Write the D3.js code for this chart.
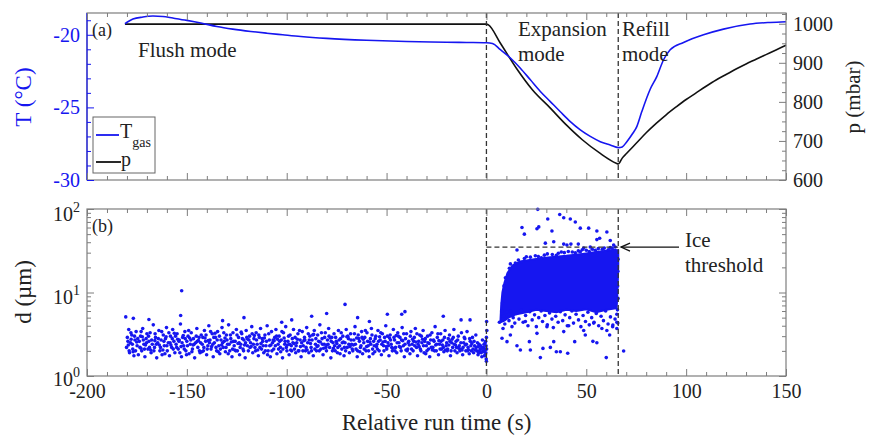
<!DOCTYPE html>
<html><head><meta charset="utf-8">
<script src="https://cdn.jsdelivr.net/npm/d3@7"></script>
<style>
body{margin:0;background:#fff}
svg{display:block}
svg text{font-family:'Liberation Serif','Times New Roman','DejaVu Serif',serif}
</style>
</head><body>
<svg id="c" width="869" height="438"></svg>
<script>
// ---------------- DATA ----------------
const xMajorTicks = [-200,-150,-100,-50,0,50,100,150];
const tempTicks = [-30,-25,-20];
const presTicks = [600,700,800,900,1000];
const diamTicks = [1,10,100];
const modeBoundaries = [0,66];
const iceThreshold = 35;

const tempTime = [-181,-177,-172,-167,-162,-157,-150,-143,-135,-127,-118,-110,-102,-93,-80,-60,-40,-20,-10,0,3,7,12,17,22,27,32,37,42,47,52,57,62,66,68,70.3,73.3,75.3,77.8,82,85.3,88.7,92,98.7,108.7,118.7,132,142,150];
const tempVal  = [-19.24,-18.92,-18.78,-18.71,-18.74,-18.85,-19.01,-19.19,-19.43,-19.61,-19.77,-19.89,-20.0,-20.12,-20.25,-20.38,-20.46,-20.51,-20.53,-20.55,-20.6,-21.03,-21.6,-22.3,-23.1,-23.9,-24.6,-25.3,-25.98,-26.55,-27.0,-27.36,-27.59,-27.77,-27.72,-27.36,-26.78,-26.32,-25.29,-23.75,-22.88,-21.72,-21.03,-20.53,-20.0,-19.61,-19.26,-19.15,-19.1];

const presTime = [-181,-150,-100,-50,0,1,7,15,23,32,40,48,57,65,66,68,70,75,80,85,90,95,100,105,110,115,120,125,130,135,140,145,150];
const presVal  = [999,999,999,999,999,997,950,886,831,784,741,703,668,643,641,656,667,694,721,745,767,787,806,823,840,856,870,884,897,909,921,933,945];

const flushPoints = [
[-180.2,2.2],[-179.8,2.9],[-179.1,3.6],[-178.7,1.9],[-178.2,2.5],[-177.6,3.1],[-177.1,2.1],[-176.5,1.75],[-176.0,2.7],[-175.4,3.4],[-174.9,2.3],[-174.3,1.8],[-173.8,2.6],[-173.2,3.0],[-172.6,2.0],[-172.1,3.7],[-171.5,2.4],[-171.0,1.7],[-170.4,2.8],[-170.0,3.2],
[-169.5,2.1],[-169.0,2.6],[-168.4,3.3],[-167.9,1.9],[-167.3,2.4],[-166.8,4.1],[-166.2,2.2],[-165.7,2.9],[-165.1,1.65],[-164.6,2.5],[-164.0,3.5],[-163.5,2.0],[-162.9,2.7],[-162.4,1.8],[-161.8,3.1],[-161.3,2.3],[-160.7,2.8],[-160.2,3.8],[-159.8,2.0],[-159.3,2.5],
[-158.7,1.75],[-158.2,3.0],[-157.6,2.2],[-157.1,3.6],[-156.5,2.6],[-156.0,1.9],[-155.4,2.4],[-154.9,3.2],[-154.3,2.1],[-153.8,2.7],[-153.2,4.2],[-152.7,1.7],[-152.1,2.9],[-151.6,2.3],[-151.0,3.4],[-150.5,2.0],[-150.0,2.6],[-149.4,3.0],[-148.9,1.85],[-148.3,2.4],
[-147.8,3.3],[-147.2,2.1],[-146.7,2.8],[-146.1,1.65],[-145.6,2.5],[-145.0,3.7],[-144.5,2.2],[-143.9,2.9],[-143.4,1.9],[-142.8,3.1],[-142.3,2.4],[-141.7,2.0],[-141.2,3.5],[-140.6,2.6],[-140.1,1.8],[-139.5,2.3],[-139.0,4.0],[-138.4,2.7],[-137.9,2.1],[-137.3,3.2],
[-136.8,1.7],[-136.2,2.5],[-135.7,2.9],[-135.1,2.0],[-134.6,3.4],[-134.0,2.3],[-133.5,1.85],[-132.9,2.7],[-132.4,3.8],[-131.8,2.2],[-131.3,2.6],[-130.7,1.95],[-130.2,3.1],[-129.6,2.4],[-129.1,4.1],[-128.5,2.0],[-128.0,2.8],[-127.4,1.7],[-126.9,3.3],[-126.3,2.3],
[-125.8,2.6],[-125.2,3.6],[-124.7,2.0],[-124.1,2.9],[-123.6,1.8],[-123.0,2.4],[-122.5,3.2],[-121.9,2.1],[-121.4,2.7],[-120.8,1.65],[-120.3,3.5],[-119.7,2.3],[-119.2,2.0],[-118.6,3.0],[-118.1,2.5],[-117.5,3.9],[-117.0,1.9],[-116.4,2.8],[-115.9,2.2],[-115.3,3.3],
[-114.8,2.4],[-114.2,1.75],[-113.7,2.9],[-113.1,3.7],[-112.6,2.1],[-112.0,2.6],[-111.5,1.9],[-110.9,3.1],[-110.4,2.3],[-109.8,4.0],[-109.3,2.0],[-108.7,2.7],[-108.2,1.7],[-107.6,3.4],[-107.1,2.5],[-106.5,2.1],[-106.0,2.9],[-105.4,3.6],[-104.9,1.85],[-104.3,2.4],
[-103.8,3.0],[-103.2,2.2],[-102.7,2.7],[-102.1,1.65],[-101.6,3.3],[-101.0,2.4],[-100.5,3.9],[-99.9,2.0],[-99.4,2.6],[-98.8,1.8],[-98.3,3.1],[-97.7,2.3],[-97.2,2.8],[-96.6,3.6],[-96.1,2.1],[-95.5,1.9],[-95.0,2.5],[-94.4,3.2],[-93.9,2.0],[-93.3,2.7],
[-92.8,1.7],[-92.2,3.4],[-91.7,2.3],[-91.1,2.9],[-90.6,2.0],[-90.0,3.8],[-89.5,2.5],[-88.9,1.9],[-88.4,3.0],[-87.8,2.2],[-87.3,2.7],[-86.7,1.75],[-86.2,3.5],[-85.6,2.4],[-85.1,2.0],[-84.5,3.1],[-84.0,2.6],[-83.4,4.1],[-82.9,2.1],[-82.3,2.8],
[-81.8,1.8],[-81.2,2.4],[-80.7,3.3],[-80.1,2.0],[-79.6,2.7],[-79.0,3.7],[-78.5,2.2],[-77.9,1.65],[-77.4,2.9],[-76.8,2.5],[-76.3,3.2],[-75.7,2.0],[-75.2,2.6],[-74.6,1.9],[-74.1,3.5],[-73.5,2.3],[-73.0,2.8],[-72.4,2.1],[-71.9,3.0],[-71.3,1.75],
[-70.8,2.5],[-70.2,3.6],[-69.7,2.2],[-69.1,2.8],[-68.6,1.9],[-68.0,3.2],[-67.5,2.4],[-66.9,2.0],[-66.4,2.7],[-65.8,3.9],[-65.3,2.1],[-64.7,1.7],[-64.2,3.1],[-63.6,2.6],[-63.1,2.2],[-62.5,3.4],[-62.0,1.85],[-61.4,2.5],[-60.9,2.9],[-60.3,2.0],
[-59.8,3.3],[-59.2,2.3],[-58.7,1.7],[-58.1,2.8],[-57.6,3.7],[-57.0,2.1],[-56.5,2.6],[-55.9,1.95],[-55.4,3.0],[-54.8,2.4],[-54.3,3.5],[-53.7,2.0],[-53.2,2.7],[-52.6,1.8],[-52.1,3.2],[-51.5,2.3],[-51.0,2.9],[-50.4,4.0],[-49.9,2.1],[-49.3,2.5],
[-48.8,1.75],[-48.2,3.1],[-47.7,2.4],[-47.1,2.0],[-46.6,3.6],[-46.0,2.7],[-45.5,2.2],[-44.9,1.9],[-44.4,3.3],[-43.8,2.5],[-43.3,2.9],[-42.7,2.0],[-42.2,3.8],[-41.6,2.3],[-41.1,1.7],[-40.5,2.8],[-40.0,3.2],[-39.4,2.1],[-38.9,2.6],[-38.3,1.85],
[-37.8,3.4],[-37.2,2.4],[-36.7,2.0],[-36.1,2.9],[-35.6,3.7],[-35.0,2.2],[-34.5,1.75],[-33.9,2.6],[-33.4,3.1],[-32.8,2.0],[-32.3,2.5],[-31.7,3.5],[-31.2,1.9],[-30.6,2.8],[-30.1,2.3],[-29.5,3.0],[-29.0,2.1],[-28.4,1.7],[-27.9,2.7],[-27.3,3.3],
[-26.8,2.2],[-26.2,2.6],[-25.7,3.9],[-25.1,2.0],[-24.6,2.9],[-24.0,1.8],[-23.5,2.4],[-22.9,3.2],[-22.4,2.1],[-21.8,2.7],[-21.3,1.95],[-20.7,3.5],[-20.2,2.3],[-19.6,2.0],[-19.1,2.8],[-18.5,3.1],[-18.0,1.75],[-17.4,2.5],[-16.9,2.2],[-16.3,3.6],
[-15.8,2.0],[-15.2,2.6],[-14.7,1.9],[-14.1,3.0],[-13.6,2.3],[-13.0,2.1],[-12.5,3.3],[-11.9,1.8],[-11.4,2.5],[-10.8,2.8],[-10.3,2.0],[-9.7,3.4],[-9.2,2.2],[-8.6,1.85],[-8.1,2.6],[-7.5,2.0],[-7.0,2.9],[-6.4,1.9],[-5.9,2.3],[-5.3,3.1],
[-4.8,2.0],[-4.2,1.8],[-3.7,2.4],[-3.1,2.1],[-2.6,1.9],[-2.0,2.7],[-1.5,2.2],[-1.0,1.75],[-0.6,2.5],[-0.3,1.9],[-0.2,2.3],[-0.1,1.6],[0.0,2.9],[0.1,2.1],[0.2,3.5],[0.0,1.5],[-0.4,2.6],[0.1,4.5],
[-180.6,5.1],[-176.8,4.9],[-169.0,4.75],[-153.1,5.3],[-152.6,10.5],[-132.1,4.6],[-121.4,5.0],[-102.5,4.4],[-97.5,4.7],[-87.5,5.2],[-80.0,5.6],[-70.8,7.2],[-64.5,5.0],[-58.6,4.5],[-49.6,5.5],[-42.4,5.5],[-40.8,5.9],[-21.6,5.2],[-12.7,4.7],[-8.2,4.7]
];

const flushPoints2 = [
[-179.5,2.6],[-178.9,2.0],[-178.0,3.3],[-177.3,2.4],[-176.2,3.0],[-175.7,2.0],[-174.6,2.8],[-173.5,2.2],[-172.9,3.4],[-171.8,2.7],[-171.2,2.1],[-170.2,2.5],[-169.2,3.0],[-168.7,2.2],[-167.6,2.7],[-166.5,2.0],[-165.9,3.2],[-165.3,2.4],[-164.3,2.8],[-163.2,2.2],
[-162.6,3.4],[-161.5,2.6],[-161.0,1.85],[-160.0,2.3],[-159.0,3.3],[-158.4,2.5],[-157.3,2.8],[-156.8,2.1],[-155.7,3.0],[-155.1,2.2],[-154.0,2.6],[-153.5,1.9],[-152.4,2.5],[-151.3,2.1],[-150.8,2.8],[-149.7,2.3],[-149.1,3.5],[-148.0,2.7],[-147.5,1.95],[-146.4,2.4],
[-145.3,3.0],[-144.8,2.6],[-143.7,2.0],[-143.1,2.5],[-142.0,2.9],[-141.5,2.2],[-140.4,3.1],[-139.8,2.1],[-138.7,2.5],[-138.1,3.4],[-137.0,2.4],[-136.5,2.9],[-135.4,2.2],[-134.8,2.7],[-133.7,3.0],[-133.2,2.1],[-132.1,2.5],[-131.5,3.3],[-130.4,2.2],[-129.9,2.7],
[-128.8,2.4],[-128.2,3.1],[-127.1,2.1],[-126.6,2.6],[-125.5,2.0],[-124.9,3.1],[-123.8,2.5],[-123.3,2.2],[-122.2,2.8],[-121.6,2.0],[-120.6,2.5],[-120.0,2.9],[-118.9,2.7],[-118.4,2.2],[-117.3,3.2],[-116.7,2.4],[-115.6,2.0],[-115.1,2.7],[-114.0,3.1],[-113.4,2.2],
[-112.3,2.8],[-111.8,2.3],[-110.7,2.0],[-110.1,2.6],[-109.0,3.2],[-108.5,2.3],[-107.4,2.0],[-106.8,2.7],[-105.7,2.3],[-105.1,3.0],[-104.1,2.1],[-103.5,2.6],[-102.4,3.4],[-101.9,2.1],[-100.8,2.6],[-100.2,2.2],[-99.1,3.0],[-98.6,2.4],[-97.5,2.0],[-96.9,2.5],
[-95.8,2.9],[-95.3,2.3],[-94.2,2.0],[-93.6,3.5],[-92.5,2.5],[-91.9,2.0],[-90.9,2.7],[-90.3,2.2],[-89.2,3.2],[-88.7,2.7],[-87.6,2.0],[-87.0,3.1],[-85.9,2.1],[-85.4,2.8],[-84.3,2.3],[-83.7,2.0],[-82.6,3.3],[-82.1,2.4],[-81.0,2.9],[-80.4,2.2],
[-79.3,2.4],[-78.8,3.0],[-77.7,2.6],[-77.1,2.0],[-76.0,2.3],[-75.5,2.9],[-74.4,2.2],[-73.8,2.7],[-72.7,3.3],[-72.2,2.5],[-71.1,2.2],[-70.5,2.0],[-69.4,3.0],[-68.9,2.4],[-67.8,2.7],[-67.2,2.1],[-66.1,3.2],[-65.6,2.4],[-64.5,2.0],[-63.9,2.8],
[-62.8,2.3],[-62.3,2.9],[-61.2,2.1],[-60.6,3.5],[-59.5,2.6],[-59.0,2.0],[-57.9,2.4],[-57.3,3.1],[-56.2,2.3],[-55.7,2.8],[-54.6,2.1],[-54.0,2.6],[-52.9,3.3],[-52.4,2.4],[-51.3,2.0],[-50.7,2.6],[-49.6,3.0],[-49.1,2.3],[-48.0,2.7],[-47.4,2.2],
[-46.3,2.9],[-45.8,2.0],[-44.7,2.5],[-44.1,3.0],[-43.0,2.2],[-42.5,2.7],[-41.4,3.2],[-40.8,2.4],[-39.7,2.0],[-39.2,2.5],[-38.1,3.0],[-37.5,2.1],[-36.4,2.6],[-35.9,2.3],[-34.8,3.2],[-34.2,2.4],[-33.1,2.1],[-32.6,3.0],[-31.5,2.3],[-30.9,2.6],
[-29.8,2.0],[-29.3,2.5],[-28.2,3.1],[-27.6,2.2],[-26.5,2.7],[-26.0,2.0],[-24.9,2.4],[-24.3,3.2],[-23.2,2.1],[-22.7,2.6],[-21.6,2.2],[-21.0,2.9],[-19.9,2.5],[-19.4,2.1],[-18.3,2.6],[-17.7,2.0],[-16.6,2.9],[-16.1,2.4],[-15.0,2.2],[-14.4,2.7],
[-13.3,2.0],[-12.8,2.5],[-11.7,2.2],[-11.1,2.9],[-10.0,2.4],[-9.5,2.0],[-8.4,2.8],[-7.8,2.3],[-6.7,2.1],[-6.2,2.6],[-5.1,2.2],[-4.5,2.5],[-3.4,2.0],[-2.9,2.3],[-1.8,2.0],[-1.2,2.4],[-0.8,2.1],[-0.5,1.8],[-2.3,1.7],[-3.9,1.9]
];

const flushPoints3 = [
[-179.3,2.35],[-177.9,2.75],[-176.9,1.95],[-175.1,2.55],[-173.0,2.15],[-172.3,2.95],[-170.7,2.35],[-168.1,2.05],[-166.0,2.65],[-163.8,2.35],[-162.0,2.05],[-160.4,2.95],[-158.0,2.35],[-156.3,3.25],[-154.6,2.75],[-152.9,2.25],[-151.8,3.05],[-150.2,1.8],[-148.6,2.85],[-146.9,2.35],
[-144.2,2.65],[-142.5,1.95],[-140.9,2.85],[-139.3,2.65],[-137.6,2.25],[-135.9,3.25],[-134.3,1.95],[-132.6,2.35],[-130.9,2.85],[-129.3,1.85],[-127.7,2.55],[-126.0,2.05],[-124.4,2.45],[-122.8,3.35],[-121.1,2.35],[-119.5,2.75],[-117.8,2.25],[-116.2,3.05],[-114.5,2.05],[-112.9,2.45],
[-111.2,2.85],[-109.6,1.8],[-107.9,2.35],[-106.3,2.65],[-104.6,2.75],[-103.0,1.95],[-101.3,2.85],[-99.7,2.35],[-98.0,2.05],[-96.4,2.45],[-94.7,2.75],[-93.1,2.25],[-91.4,2.65],[-89.8,2.05],[-88.1,2.45],[-86.5,3.15],[-84.8,2.25],[-83.2,2.55],[-81.5,2.15],[-79.9,2.35],
[-78.2,2.85],[-76.6,2.15],[-74.9,2.45],[-73.3,1.85],[-71.6,2.55],[-69.9,2.95],[-68.3,2.25],[-66.6,2.35],[-65.0,2.85],[-63.4,1.95],[-61.7,2.75],[-60.0,2.25],[-58.4,2.55],[-56.8,1.85],[-55.1,2.25],[-53.5,2.95],[-51.8,2.55],[-50.1,2.25],[-48.5,2.85],[-46.9,2.15],
[-45.2,3.05],[-43.6,2.25],[-41.9,2.65],[-40.3,2.05],[-38.6,2.35],[-37.0,2.75],[-35.3,2.55],[-33.7,2.25],[-32.0,2.75],[-30.4,1.85],[-28.7,2.45],[-27.1,2.05],[-25.4,2.35],[-23.8,2.65],[-22.1,2.35],[-20.5,2.05],[-18.8,2.35],[-17.2,2.75],[-15.5,2.35],[-13.9,2.15],
[-12.2,2.05],[-10.6,2.35],[-8.9,2.05],[-7.3,2.45],[-5.6,2.05],[-4.0,2.25],[-2.4,2.15],[-1.3,1.95],[-0.7,2.05]
];

// dense ice cloud envelope (t, d)
const cloudOutline = [[7,4.4],[7.4,7],[8,10],[9,13],[10.5,17],[13,21],[17,23.5],[24,25],[32,26.5],[40,27.5],[48,29],[57,31],[64,32.5],[66,32],[66,20],[65.6,10],[65.2,6.5],[60,6.2],[55,5.8],[50,6.3],[45,6],[40,6.2],[35,5.8],[30,6],[25,6.2],[20,5.8],[15,5.5],[11,5],[9,4.6]];

const expansionPoints = [
[25.7,99],[30.7,76],[26.2,61],[25.3,58],[17.8,60],[19.0,50],[36.7,86],[38.7,78.5],[42.0,76],[44.5,70],[47.0,59],[51.2,59],[55.3,54.5],[60.3,53],[56.7,44.6],[55.3,43],[32.8,54.5],[33.7,40.5],[29.5,39],[38.7,38],[40.3,37],[42.3,38],[62.0,42],[63.7,37],[46.0,38],[15.3,32.3],[48.7,34],[52.0,35],
[7.8,2.83],[12.0,3.1],[10.3,2.58],[15.3,2.3],[17.0,2.05],[21.5,2.58],[22.0,2.05],[27.0,1.66],[28.3,2.14],[32.0,2.2],[35.0,1.95],[37.0,1.95],[40.7,1.87],[38.7,3.4],[33.7,2.58],[44.2,2.58],[48.7,3.5],[49.5,3.1],[53.3,2.6],[55.3,2.5],[60.0,1.66],[61.7,3.1],[63.3,4.08],[65.3,4.4],[65.3,3.7],[68.7,1.99],[6.5,4.4],
[8.3,3.7],[12.8,3.9],[19.5,4.5],[25.3,3.24],[30.3,3.9],[41.2,4.0],[53.7,4.3],[57.8,3.7],[60.3,3.5],
[8.5,5.2],[9.2,4.2],[10.0,5.8],[11.3,4.6],[12.1,6.0],[13.4,5.0],[14.2,4.3],[15.0,5.6],[16.3,4.8],[17.5,6.1],[18.4,4.4],[19.6,5.3],[20.8,4.0],[21.7,5.9],[22.9,4.7],[24.1,5.4],[25.0,3.9],[26.2,5.0],[27.4,6.0],[28.1,4.5],[29.3,5.3],[30.5,4.1],[31.6,5.7],[32.8,4.8],[33.5,3.8],[34.7,5.2],[35.9,4.4],[37.0,5.9],[38.2,4.6],[39.4,5.4],[40.5,4.0],[41.7,5.0],[42.8,6.0],[43.6,4.3],[44.9,5.5],[46.1,4.7],[47.3,3.9],[48.4,5.3],[49.6,4.5],[50.8,5.8],[51.5,4.1],[52.7,5.0],[53.9,4.4],[55.0,5.6],[56.2,4.0],[57.4,5.2],[58.6,4.6],[59.7,6.0],[60.9,4.2],[62.1,5.1],[63.2,3.9],[64.4,4.8],[65.3,5.5],[65.8,4.3],[65.6,6.2],[65.9,8.5],[65.7,12],[65.8,18],[65.9,25],[8.0,7.5],[7.6,6.0],[8.8,12],[9.5,15],
[14.5,22.5],[16,24.5],[19,25.5],[22,26.5],[26,27],[29,28],[33,28.5],[36,29.5],[39,30],[43,30.5],[46,31.5],[50,32],[53,33],[56,33.5],[59,34],[62,34.5],[64.5,35],[18,23],[41,31],[48,32.5],
[12,22],[20,26.8],[24.5,27.5],[27.5,26],[30.5,29],[35,27.8],[37.5,30.5],[44.5,29.8],[47,30.8],[51.5,31],[54.5,32],[58,33],[61,32.5],[63,34],[11.5,19.5]
];

// ---------------- LAYOUT ----------------
const L = 87, R = 786, aTop = 13, aBot = 180, bTop = 209, bBot = 376;
const blue = '#1616f0', gray = '#7d7d7d';
const FONT = "'Liberation Serif','Times New Roman','DejaVu Serif',serif";

const x  = d3.scaleLinear().domain([-200,150]).range([L,R]);
const yT = d3.scaleLinear().domain([-30,-18.5]).range([aBot,aTop]);
const yP = d3.scaleLinear().domain([600,1027.5]).range([aBot,aTop]);
const yD = d3.scaleLog().domain([1,100]).range([bBot,bTop]);

const svg = d3.select('#c').attr('font-family', FONT);

// ---------- panel (b) data ----------
const gB = svg.append('g');
gB.append('path')
  .attr('d', d3.line().x(d=>x(d[0])).y(d=>yD(d[1])).curve(d3.curveLinearClosed)(cloudOutline))
  .attr('fill', blue).attr('stroke', blue).attr('stroke-width', 2);
[flushPoints, flushPoints2, flushPoints3, expansionPoints].forEach(arr=>{
  gB.append('g').selectAll('circle').data(arr).join('circle')
    .attr('cx', d=>x(d[0])).attr('cy', d=>yD(d[1])).attr('r', 1.8).attr('fill', blue);
});

// ---------- panel (a) lines ----------
svg.append('path')
  .attr('d', d3.line().x((d,i)=>x(presTime[i])).y(d=>yP(d)).curve(d3.curveMonotoneX)(presVal))
  .attr('fill','none').attr('stroke','#111').attr('stroke-width',1.6);
svg.append('path')
  .attr('d', d3.line().x((d,i)=>x(tempTime[i])).y(d=>yT(d)).curve(d3.curveMonotoneX)(tempVal))
  .attr('fill','none').attr('stroke',blue).attr('stroke-width',1.6);

// ---------- dashed mode lines ----------
modeBoundaries.forEach(t=>{
  [[aTop,aBot],[bTop,bBot]].forEach(([y0,y1])=>{
    svg.append('line').attr('x1',x(t)).attr('x2',x(t)).attr('y1',y0).attr('y2',y1)
      .attr('stroke','#333').attr('stroke-width',1.3).attr('stroke-dasharray','5,3');
  });
});
svg.append('line').attr('x1',x(modeBoundaries[0])).attr('x2',x(modeBoundaries[1]))
  .attr('y1',yD(iceThreshold)).attr('y2',yD(iceThreshold))
  .attr('stroke','#333').attr('stroke-width',1.3).attr('stroke-dasharray','5,3');

// ---------- frames ----------
[[aTop,aBot],[bTop,bBot]].forEach(([y0,y1])=>{
  svg.append('rect').attr('x',L).attr('y',y0).attr('width',R-L).attr('height',y1-y0)
    .attr('fill','none').attr('stroke',gray).attr('stroke-width',1.2);
});
svg.append('line').attr('x1',L).attr('x2',L).attr('y1',aTop).attr('y2',aBot).attr('stroke',blue).attr('stroke-width',1.2);

// ---------- axes ----------
function axis(fn, scale, vals, size, tr, color, fmt, pad){
  const a = fn(scale).tickValues(vals).tickSize(-size).tickPadding(pad||8)
    .tickFormat(fmt || (()=>''));
  const g = svg.append('g').attr('transform', tr).call(a);
  g.attr('font-family', FONT).attr('font-size', 20);
  g.select('.domain').remove();
  g.selectAll('line').attr('stroke', color).attr('stroke-width', 1);
  g.selectAll('text').attr('fill', '#222');
  return g;
}
const xMinor = d3.range(-200,151,10).filter(v=>!xMajorTicks.includes(v));
[[aBot,d3.axisBottom],[bBot,d3.axisBottom],[aTop,d3.axisTop],[bTop,d3.axisTop]].forEach(([yy,fn])=>{
  axis(fn, x, xMinor, 4, `translate(0,${yy})`, gray);
  axis(fn, x, xMajorTicks, 7, `translate(0,${yy})`, gray, (yy===bBot? d=>String(d) : null), 8);
});
axis(d3.axisLeft, yT, d3.range(-30,-18,1).filter(v=>!tempTicks.includes(v)), 4, `translate(${L},0)`, blue);
const gT = axis(d3.axisLeft, yT, tempTicks, 7, `translate(${L},0)`, blue, d=>String(d), 7);
gT.selectAll('text').attr('fill', blue);
axis(d3.axisRight, yP, d3.range(600,1026,25).filter(v=>!presTicks.includes(v)), 4, `translate(${R},0)`, gray);
axis(d3.axisRight, yP, presTicks, 7, `translate(${R},0)`, gray, d=>String(d), 7);
const dMinor = [2,3,4,5,6,7,8,9,20,30,40,50,60,70,80,90];
axis(d3.axisLeft, yD, dMinor, 4, `translate(${L},0)`, gray);
axis(d3.axisRight, yD, dMinor, 4, `translate(${R},0)`, gray);
axis(d3.axisRight, yD, diamTicks, 7, `translate(${R},0)`, gray);
const gD = axis(d3.axisLeft, yD, diamTicks, 7, `translate(${L},0)`, gray, d=>'x', 7);
gD.selectAll('text').each(function(d){
  const t = d3.select(this).text('').attr('dy', null).attr('y', d===1 ? 9 : 11);
  t.append('tspan').text('10');
  t.append('tspan').attr('font-size', 14).attr('dy', -9).text(String(Math.round(Math.log10(d))));
});

// ---------- axis titles ----------
svg.append('text').attr('transform','translate(31,97) rotate(-90)').attr('text-anchor','middle')
  .attr('font-size',23).attr('fill',blue).text('T (°C)');
svg.append('text').attr('transform','translate(31,292) rotate(-90)').attr('text-anchor','middle')
  .attr('font-size',23).attr('fill','#222').text('d (µm)');
svg.append('text').attr('transform','translate(860,97) rotate(-90)').attr('text-anchor','middle')
  .attr('font-size',21).attr('fill','#222').text('p (mbar)');
svg.append('text').attr('x',(L+R)/2).attr('y',430).attr('text-anchor','middle')
  .attr('font-size',23).attr('fill','#222').text('Relative run time (s)');

// ---------- annotations ----------
const ann = (tx,ty,s,fs)=>svg.append('text').attr('x',tx).attr('y',ty).attr('font-size',fs||21).attr('fill','#222').text(s);
ann(92,36,'(a)',18);
ann(92,232,'(b)',18);
ann(138,57,'Flush mode');
ann(518,36,'Expansion');
ann(518,61,'mode');
ann(622,36,'Refill');
ann(622,61,'mode');
ann(685,247,'Ice');
ann(685,272,'threshold');
const ay = yD(iceThreshold);
svg.append('line').attr('x1',679).attr('x2',621).attr('y1',ay).attr('y2',ay).attr('stroke','#111').attr('stroke-width',1.3);
svg.append('path').attr('d',`M630,${ay-4} L621,${ay} L630,${ay+4}`).attr('fill','none').attr('stroke','#111').attr('stroke-width',1.3);

// ---------- legend ----------
svg.append('rect').attr('x',93).attr('y',117).attr('width',62).attr('height',56)
  .attr('fill','#fff').attr('stroke','#666').attr('stroke-width',1);
svg.append('line').attr('x1',96).attr('x2',119).attr('y1',135).attr('y2',135).attr('stroke',blue).attr('stroke-width',1.8);
svg.append('line').attr('x1',96).attr('x2',121).attr('y1',162).attr('y2',162).attr('stroke','#111').attr('stroke-width',1.8);
const lt = svg.append('text').attr('x',120).attr('y',138).attr('font-size',20).attr('fill','#222');
lt.append('tspan').text('T');
lt.append('tspan').attr('font-size',14).attr('dy',9).text('gas');
svg.append('text').attr('x',121).attr('y',166).attr('font-size',20).attr('fill','#222').text('p');
</script>
</body></html>
